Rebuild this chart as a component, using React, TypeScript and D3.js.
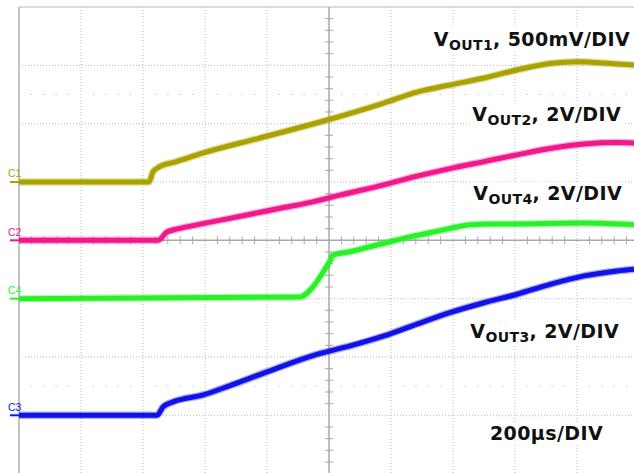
import React, { useEffect, useRef } from 'react';
import * as d3 from 'd3';

// time in µs (200µs/DIV), volts per channel
const c1Time = [0, 419, 432, 455, 503, 594, 777, 971, 1177, 1284, 1390, 1500, 1606, 1713, 1800, 1929, 1984];
const c1Volt = [0, 0, 0.086, 0.133, 0.171, 0.249, 0.377, 0.514, 0.677, 0.771, 0.831, 0.891, 0.96, 1.015, 1.031, 1.011, 1.003];

const c2Time = [0, 448, 477, 503, 519, 626, 735, 842, 948, 1035, 1177, 1284, 1390, 1500, 1606, 1713, 1823, 1929, 1984];
const c2Volt = [0, 0, 0.28, 0.37, 0.41, 0.64, 0.87, 1.1, 1.32, 1.55, 1.9, 2.2, 2.46, 2.7, 2.93, 3.15, 3.3, 3.35, 3.34];

const c4Time = [0, 906, 948, 981, 1003, 1013, 1068, 1132, 1197, 1261, 1326, 1390, 1455, 1519, 1584, 1823, 1984];
const c4Volt = [0, 0.06, 0.4, 0.91, 1.29, 1.5, 1.61, 1.78, 1.95, 2.12, 2.26, 2.41, 2.53, 2.56, 2.56, 2.59, 2.53];

const c3Time = [0, 445, 465, 497, 594, 681, 800, 961, 1068, 1177, 1284, 1390, 1500, 1606, 1713, 1823, 1929, 1984];
const c3Volt = [0, 0, 0.29, 0.46, 0.7, 1.02, 1.49, 2.09, 2.38, 2.72, 3.13, 3.52, 3.86, 4.15, 4.49, 4.78, 4.95, 5.01];

const channels = [
  { name: 'C1', time: c1Time, volt: c1Volt, voltsPerDiv: 0.5, offset: 1, color: '#aaa200' },
  { name: 'C2', time: c2Time, volt: c2Volt, voltsPerDiv: 2, offset: 0, color: '#f0188a' },
  { name: 'C4', time: c4Time, volt: c4Volt, voltsPerDiv: 2, offset: -1, color: '#2af02a' },
  { name: 'C3', time: c3Time, volt: c3Volt, voltsPerDiv: 2, offset: -3, color: '#1212e6' },
];

const labels = [
  { main: 'V', sub: 'OUT1', rest: ', 500mV/DIV', x: 630, y: 46 },
  { main: 'V', sub: 'OUT2', rest: ', 2V/DIV', x: 621, y: 121 },
  { main: 'V', sub: 'OUT4', rest: ', 2V/DIV', x: 622, y: 200 },
  { main: 'V', sub: 'OUT3', rest: ', 2V/DIV', x: 619, y: 338 },
  { main: '200µs/DIV', sub: '', rest: '', x: 603, y: 440 },
];

const Scope: React.FC = () => {
  const svgRef = useRef<SVGSVGElement>(null);

  useEffect(() => {
    if (!svgRef.current) return;
    const svg = d3.select(svgRef.current);
    svg.selectAll('*').remove();

    const width = 634;
    const height = 473;
    const left = 19;
    const top = 7;
    const divW = 62;
    const divH = 58.33;

    const x = d3.scaleLinear().domain([0, 2000]).range([left, left + 10 * divW]);
    const y = d3.scaleLinear().domain([-4, 4]).range([top + 8 * divH, top]);

    svg.append('rect').attr('width', width).attr('height', height).attr('fill', 'white');

    const grid = svg.append('g');
    // vertical divisions
    for (let k = 1; k < 10; k++) {
      if (k === 5) continue;
      grid
        .append('line')
        .attr('x1', left + k * divW)
        .attr('x2', left + k * divW)
        .attr('y1', top)
        .attr('y2', height)
        .attr('stroke', '#b8b8b8')
        .attr('stroke-dasharray', '1,2');
    }
    // horizontal divisions
    for (let k = -3; k <= 3; k++) {
      if (k === 0) continue;
      grid
        .append('line')
        .attr('x1', left)
        .attr('x2', width)
        .attr('y1', y(k))
        .attr('y2', y(k))
        .attr('stroke', '#b8b8b8')
        .attr('stroke-dasharray', '1,2');
    }
    // sparse half-division markers
    [2.5, -2.5].forEach((d) => {
      for (let i = 1; i < 50; i++) {
        if (i % 5 === 0) continue;
        grid
          .append('line')
          .attr('x1', left + i * (divW / 5) - 0.8)
          .attr('x2', left + i * (divW / 5) + 0.8)
          .attr('y1', y(d))
          .attr('y2', y(d))
          .attr('stroke', '#c4c4c4');
      }
    });

    // borders
    grid.append('line').attr('x1', left).attr('x2', width).attr('y1', top).attr('y2', top)
      .attr('stroke', '#cfcfcf').attr('stroke-width', 1.5);
    grid.append('line').attr('x1', left).attr('x2', left).attr('y1', top).attr('y2', height)
      .attr('stroke', '#c4c4c4').attr('stroke-width', 2);

    // center axes with ticks
    const cx = x(1000);
    const cy = y(0);
    grid.append('line').attr('x1', cx).attr('x2', cx).attr('y1', top).attr('y2', height)
      .attr('stroke', '#a8a8a8').attr('stroke-width', 1.5);
    grid.append('line').attr('x1', left).attr('x2', width).attr('y1', cy).attr('y2', cy)
      .attr('stroke', '#a8a8a8').attr('stroke-width', 1.5);
    for (let i = 1; i < 40; i++) {
      if (i % 5 === 0) continue;
      const ty = top + i * (divH / 5);
      grid.append('line').attr('x1', cx - 4).attr('x2', cx + 4).attr('y1', ty).attr('y2', ty)
        .attr('stroke', '#a8a8a8');
    }
    for (let i = 1; i < 50; i++) {
      if (i % 5 === 0) continue;
      const tx = left + i * (divW / 5);
      grid.append('line').attr('x1', tx).attr('x2', tx).attr('y1', cy - 4).attr('y2', cy + 4)
        .attr('stroke', '#a8a8a8');
    }

    const textG = svg.append('g');

    // traces
    channels.forEach((ch) => {
      const pts: [number, number][] = ch.time.map((t, i) => [t, ch.volt[i]]);
      const line = d3
        .line<[number, number]>()
        .x((d) => x(d[0]))
        .y((d) => y(ch.offset + d[1] / ch.voltsPerDiv))
        .curve(d3.curveMonotoneX);
      svg.append('path').attr('d', line(pts)).attr('fill', 'none')
        .attr('stroke', ch.color).attr('stroke-width', 7.5).attr('stroke-opacity', 0.35);
      svg.append('path').attr('d', line(pts)).attr('fill', 'none')
        .attr('stroke', ch.color).attr('stroke-width', 5);

      const by = y(ch.offset);
      svg.append('line').attr('x1', 10).attr('x2', 19).attr('y1', by).attr('y2', by)
        .attr('stroke', ch.color).attr('stroke-width', 2);
      svg.append('text').attr('x', 8).attr('y', by - 4.5).text(ch.name)
        .attr('fill', ch.color).attr('font-family', 'Liberation Sans Narrow, Liberation Sans, Arial')
        .attr('font-size', 10.5);
    });

    // labels with white boxes
    labels.forEach((l) => {
      const t = textG
        .append('text')
        .attr('x', l.x)
        .attr('y', l.y)
        .attr('text-anchor', 'end')
        .attr('font-family', 'DejaVu Sans, Verdana')
        .attr('font-weight', 'bold')
        .attr('font-size', 19)
        .attr('letter-spacing', 0.4)
        .attr('fill', '#111');
      t.append('tspan').text(l.main);
      if (l.sub) {
        t.append('tspan').text(l.sub).attr('font-size', 14).attr('dy', 3.5);
        t.append('tspan').text(l.rest).attr('dy', -3.5);
      }
      const bb = (t.node() as SVGTextElement).getBBox();
      textG
        .insert('rect', 'text')
        .attr('x', bb.x - 3)
        .attr('y', bb.y)
        .attr('width', bb.width + 6)
        .attr('height', bb.height)
        .attr('fill', 'white');
    });
  }, []);

  return (
    <svg
      ref={svgRef}
      width={634}
      height={473}
      style={{ position: 'absolute', left: 0, top: 0, display: 'block' }}
    />
  );
};

export default function App() {
  return <Scope />;
}
